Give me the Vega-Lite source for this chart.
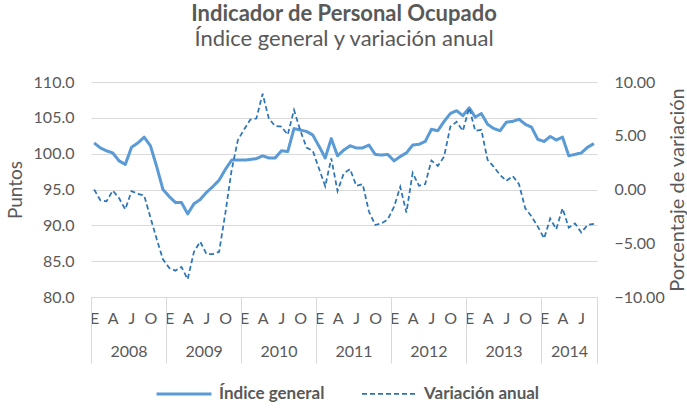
{
  "$schema": "https://vega.github.io/schema/vega-lite/v6.json",
  "width": 506,
  "height": 215,
  "autosize": {"type": "none"},
  "padding": {"left": 91, "top": 82, "right": 90, "bottom": 111},
  "title": {
    "text": "Indicador de Personal Ocupado",
    "subtitle": "Índice general y variación anual",
    "anchor": "middle",
    "frame": "group",
    "font": "Lato",
    "fontSize": 22,
    "fontWeight": "bold",
    "color": "#595959",
    "subtitleFont": "Lato",
    "subtitleFontSize": 22,
    "subtitleColor": "#595959",
    "subtitlePadding": 3,
    "offset": 23
  },
  "config": {
    "font": "Lato",
    "view": {"stroke": null},
    "axis": {"labelFont": "Lato", "titleFont": "Lato", "labelColor": "#595959", "titleColor": "#595959"}
  },
  "data": {
    "values": [
      {"fecha": "2008-01", "serie": "Índice general", "valor": 101.5},
      {"fecha": "2008-02", "serie": "Índice general", "valor": 100.8},
      {"fecha": "2008-03", "serie": "Índice general", "valor": 100.4},
      {"fecha": "2008-04", "serie": "Índice general", "valor": 100.1},
      {"fecha": "2008-05", "serie": "Índice general", "valor": 99.0},
      {"fecha": "2008-06", "serie": "Índice general", "valor": 98.5},
      {"fecha": "2008-07", "serie": "Índice general", "valor": 100.9},
      {"fecha": "2008-08", "serie": "Índice general", "valor": 101.5},
      {"fecha": "2008-09", "serie": "Índice general", "valor": 102.3},
      {"fecha": "2008-10", "serie": "Índice general", "valor": 101.1},
      {"fecha": "2008-11", "serie": "Índice general", "valor": 98.2},
      {"fecha": "2008-12", "serie": "Índice general", "valor": 95.0},
      {"fecha": "2009-01", "serie": "Índice general", "valor": 94.0},
      {"fecha": "2009-02", "serie": "Índice general", "valor": 93.2},
      {"fecha": "2009-03", "serie": "Índice general", "valor": 93.2},
      {"fecha": "2009-04", "serie": "Índice general", "valor": 91.6},
      {"fecha": "2009-05", "serie": "Índice general", "valor": 93.0},
      {"fecha": "2009-06", "serie": "Índice general", "valor": 93.6},
      {"fecha": "2009-07", "serie": "Índice general", "valor": 94.6},
      {"fecha": "2009-08", "serie": "Índice general", "valor": 95.4},
      {"fecha": "2009-09", "serie": "Índice general", "valor": 96.3},
      {"fecha": "2009-10", "serie": "Índice general", "valor": 97.8},
      {"fecha": "2009-11", "serie": "Índice general", "valor": 99.1},
      {"fecha": "2009-12", "serie": "Índice general", "valor": 99.1},
      {"fecha": "2010-01", "serie": "Índice general", "valor": 99.1},
      {"fecha": "2010-02", "serie": "Índice general", "valor": 99.2},
      {"fecha": "2010-03", "serie": "Índice general", "valor": 99.3},
      {"fecha": "2010-04", "serie": "Índice general", "valor": 99.7},
      {"fecha": "2010-05", "serie": "Índice general", "valor": 99.4},
      {"fecha": "2010-06", "serie": "Índice general", "valor": 99.4},
      {"fecha": "2010-07", "serie": "Índice general", "valor": 100.4},
      {"fecha": "2010-08", "serie": "Índice general", "valor": 100.3},
      {"fecha": "2010-09", "serie": "Índice general", "valor": 103.5},
      {"fecha": "2010-10", "serie": "Índice general", "valor": 103.3},
      {"fecha": "2010-11", "serie": "Índice general", "valor": 103.1},
      {"fecha": "2010-12", "serie": "Índice general", "valor": 102.6},
      {"fecha": "2011-01", "serie": "Índice general", "valor": 101.0},
      {"fecha": "2011-02", "serie": "Índice general", "valor": 99.4},
      {"fecha": "2011-03", "serie": "Índice general", "valor": 102.1},
      {"fecha": "2011-04", "serie": "Índice general", "valor": 99.7},
      {"fecha": "2011-05", "serie": "Índice general", "valor": 100.5},
      {"fecha": "2011-06", "serie": "Índice general", "valor": 101.1},
      {"fecha": "2011-07", "serie": "Índice general", "valor": 100.8},
      {"fecha": "2011-08", "serie": "Índice general", "valor": 100.8},
      {"fecha": "2011-09", "serie": "Índice general", "valor": 101.2},
      {"fecha": "2011-10", "serie": "Índice general", "valor": 99.9},
      {"fecha": "2011-11", "serie": "Índice general", "valor": 99.8},
      {"fecha": "2011-12", "serie": "Índice general", "valor": 99.9},
      {"fecha": "2012-01", "serie": "Índice general", "valor": 99.0},
      {"fecha": "2012-02", "serie": "Índice general", "valor": 99.6},
      {"fecha": "2012-03", "serie": "Índice general", "valor": 100.1},
      {"fecha": "2012-04", "serie": "Índice general", "valor": 101.2},
      {"fecha": "2012-05", "serie": "Índice general", "valor": 101.3},
      {"fecha": "2012-06", "serie": "Índice general", "valor": 101.7},
      {"fecha": "2012-07", "serie": "Índice general", "valor": 103.4},
      {"fecha": "2012-08", "serie": "Índice general", "valor": 103.2},
      {"fecha": "2012-09", "serie": "Índice general", "valor": 104.5},
      {"fecha": "2012-10", "serie": "Índice general", "valor": 105.6},
      {"fecha": "2012-11", "serie": "Índice general", "valor": 106.0},
      {"fecha": "2012-12", "serie": "Índice general", "valor": 105.3},
      {"fecha": "2013-01", "serie": "Índice general", "valor": 106.4},
      {"fecha": "2013-02", "serie": "Índice general", "valor": 105.1},
      {"fecha": "2013-03", "serie": "Índice general", "valor": 105.6},
      {"fecha": "2013-04", "serie": "Índice general", "valor": 104.1},
      {"fecha": "2013-05", "serie": "Índice general", "valor": 103.5},
      {"fecha": "2013-06", "serie": "Índice general", "valor": 103.2},
      {"fecha": "2013-07", "serie": "Índice general", "valor": 104.4},
      {"fecha": "2013-08", "serie": "Índice general", "valor": 104.5},
      {"fecha": "2013-09", "serie": "Índice general", "valor": 104.8},
      {"fecha": "2013-10", "serie": "Índice general", "valor": 104.1},
      {"fecha": "2013-11", "serie": "Índice general", "valor": 103.7},
      {"fecha": "2013-12", "serie": "Índice general", "valor": 102.0},
      {"fecha": "2014-01", "serie": "Índice general", "valor": 101.7},
      {"fecha": "2014-02", "serie": "Índice general", "valor": 102.4},
      {"fecha": "2014-03", "serie": "Índice general", "valor": 101.9},
      {"fecha": "2014-04", "serie": "Índice general", "valor": 102.3},
      {"fecha": "2014-05", "serie": "Índice general", "valor": 99.7},
      {"fecha": "2014-06", "serie": "Índice general", "valor": 99.9},
      {"fecha": "2014-07", "serie": "Índice general", "valor": 100.1},
      {"fecha": "2014-08", "serie": "Índice general", "valor": 100.9},
      {"fecha": "2014-09", "serie": "Índice general", "valor": 101.4},
      {"fecha": "2008-01", "serie": "Variación anual", "valor": 0.0},
      {"fecha": "2008-02", "serie": "Variación anual", "valor": -1.0},
      {"fecha": "2008-03", "serie": "Variación anual", "valor": -1.1},
      {"fecha": "2008-04", "serie": "Variación anual", "valor": -0.1},
      {"fecha": "2008-05", "serie": "Variación anual", "valor": -0.8},
      {"fecha": "2008-06", "serie": "Variación anual", "valor": -1.85},
      {"fecha": "2008-07", "serie": "Variación anual", "valor": -0.15},
      {"fecha": "2008-08", "serie": "Variación anual", "valor": -0.4},
      {"fecha": "2008-09", "serie": "Variación anual", "valor": -0.55},
      {"fecha": "2008-10", "serie": "Variación anual", "valor": -2.6},
      {"fecha": "2008-11", "serie": "Variación anual", "valor": -4.6},
      {"fecha": "2008-12", "serie": "Variación anual", "valor": -6.5},
      {"fecha": "2009-01", "serie": "Variación anual", "valor": -7.3},
      {"fecha": "2009-02", "serie": "Variación anual", "valor": -7.55},
      {"fecha": "2009-03", "serie": "Variación anual", "valor": -7.2},
      {"fecha": "2009-04", "serie": "Variación anual", "valor": -8.35},
      {"fecha": "2009-05", "serie": "Variación anual", "valor": -5.8},
      {"fecha": "2009-06", "serie": "Variación anual", "valor": -4.85},
      {"fecha": "2009-07", "serie": "Variación anual", "valor": -6.0},
      {"fecha": "2009-08", "serie": "Variación anual", "valor": -6.0},
      {"fecha": "2009-09", "serie": "Variación anual", "valor": -5.8},
      {"fecha": "2009-10", "serie": "Variación anual", "valor": -2.2},
      {"fecha": "2009-11", "serie": "Variación anual", "valor": 1.8},
      {"fecha": "2009-12", "serie": "Variación anual", "valor": 4.6},
      {"fecha": "2010-01", "serie": "Variación anual", "valor": 5.6},
      {"fecha": "2010-02", "serie": "Variación anual", "valor": 6.5},
      {"fecha": "2010-03", "serie": "Variación anual", "valor": 6.6},
      {"fecha": "2010-04", "serie": "Variación anual", "valor": 8.9},
      {"fecha": "2010-05", "serie": "Variación anual", "valor": 6.6},
      {"fecha": "2010-06", "serie": "Variación anual", "valor": 5.9},
      {"fecha": "2010-07", "serie": "Variación anual", "valor": 5.85},
      {"fecha": "2010-08", "serie": "Variación anual", "valor": 5.1},
      {"fecha": "2010-09", "serie": "Variación anual", "valor": 7.4},
      {"fecha": "2010-10", "serie": "Variación anual", "valor": 5.5},
      {"fecha": "2010-11", "serie": "Variación anual", "valor": 3.9},
      {"fecha": "2010-12", "serie": "Variación anual", "valor": 3.6},
      {"fecha": "2011-01", "serie": "Variación anual", "valor": 1.9},
      {"fecha": "2011-02", "serie": "Variación anual", "valor": 0.3},
      {"fecha": "2011-03", "serie": "Variación anual", "valor": 2.9},
      {"fecha": "2011-04", "serie": "Variación anual", "valor": -0.15},
      {"fecha": "2011-05", "serie": "Variación anual", "valor": 1.5},
      {"fecha": "2011-06", "serie": "Variación anual", "valor": 1.9},
      {"fecha": "2011-07", "serie": "Variación anual", "valor": 0.35},
      {"fecha": "2011-08", "serie": "Variación anual", "valor": 0.5},
      {"fecha": "2011-09", "serie": "Variación anual", "valor": -2.05},
      {"fecha": "2011-10", "serie": "Variación anual", "valor": -3.3},
      {"fecha": "2011-11", "serie": "Variación anual", "valor": -3.15},
      {"fecha": "2011-12", "serie": "Variación anual", "valor": -2.8},
      {"fecha": "2012-01", "serie": "Variación anual", "valor": -1.6},
      {"fecha": "2012-02", "serie": "Variación anual", "valor": 0.25},
      {"fecha": "2012-03", "serie": "Variación anual", "valor": -2.15},
      {"fecha": "2012-04", "serie": "Variación anual", "valor": 1.55},
      {"fecha": "2012-05", "serie": "Variación anual", "valor": 0.35},
      {"fecha": "2012-06", "serie": "Variación anual", "valor": 0.5},
      {"fecha": "2012-07", "serie": "Variación anual", "valor": 2.7},
      {"fecha": "2012-08", "serie": "Variación anual", "valor": 2.2},
      {"fecha": "2012-09", "serie": "Variación anual", "valor": 3.05},
      {"fecha": "2012-10", "serie": "Variación anual", "valor": 5.85},
      {"fecha": "2012-11", "serie": "Variación anual", "valor": 6.3},
      {"fecha": "2012-12", "serie": "Variación anual", "valor": 5.45},
      {"fecha": "2013-01", "serie": "Variación anual", "valor": 7.6},
      {"fecha": "2013-02", "serie": "Variación anual", "valor": 5.45},
      {"fecha": "2013-03", "serie": "Variación anual", "valor": 5.55},
      {"fecha": "2013-04", "serie": "Variación anual", "valor": 2.75},
      {"fecha": "2013-05", "serie": "Variación anual", "valor": 2.1},
      {"fecha": "2013-06", "serie": "Variación anual", "valor": 1.35},
      {"fecha": "2013-07", "serie": "Variación anual", "valor": 0.8},
      {"fecha": "2013-08", "serie": "Variación anual", "valor": 1.25},
      {"fecha": "2013-09", "serie": "Variación anual", "valor": 0.5},
      {"fecha": "2013-10", "serie": "Variación anual", "valor": -1.75},
      {"fecha": "2013-11", "serie": "Variación anual", "valor": -2.5},
      {"fecha": "2013-12", "serie": "Variación anual", "valor": -3.45},
      {"fecha": "2014-01", "serie": "Variación anual", "valor": -4.55},
      {"fecha": "2014-02", "serie": "Variación anual", "valor": -2.7},
      {"fecha": "2014-03", "serie": "Variación anual", "valor": -3.7},
      {"fecha": "2014-04", "serie": "Variación anual", "valor": -1.75},
      {"fecha": "2014-05", "serie": "Variación anual", "valor": -3.55},
      {"fecha": "2014-06", "serie": "Variación anual", "valor": -3.15},
      {"fecha": "2014-07", "serie": "Variación anual", "valor": -4.0},
      {"fecha": "2014-08", "serie": "Variación anual", "valor": -3.3},
      {"fecha": "2014-09", "serie": "Variación anual", "valor": -3.2}
    ]
  },
  "encoding": {
    "color": {
      "field": "serie", "type": "nominal",
      "scale": {"domain": ["Índice general", "Variación anual"], "range": ["#5B9BD5", "#2E75B6"]},
      "legend": {
        "title": null, "orient": "none", "legendX": 64, "legendY": 283,
        "direction": "horizontal", "symbolType": "stroke", "symbolSize": 3025,
        "labelFont": "Lato", "labelFontSize": 17, "labelFontWeight": "bold", "labelColor": "#595959",
        "labelOffset": 6, "columnPadding": 33
      }
    },
    "strokeDash": {
      "field": "serie", "type": "nominal",
      "scale": {"domain": ["Índice general", "Variación anual"], "range": [[1, 0], [5, 3]]}
    },
    "strokeWidth": {
      "field": "serie", "type": "nominal",
      "scale": {"domain": ["Índice general", "Variación anual"], "range": [3, 1.75]}
    }
  },
  "layer": [
    {
      "transform": [{"filter": "datum.serie == 'Índice general'"}],
      "mark": {"type": "line", "strokeJoin": "round"},
      "encoding": {
        "x": {
          "field": "fecha", "type": "temporal", "timeUnit": "utcyearmonth", "bandPosition": 0.5,
          "scale": {"type": "utc", "nice": false, "domain": [{"year": 2008, "month": 1, "date": 1, "utc": true}, {"year": 2014, "month": 10, "date": 1, "utc": true}]},
          "axis": {
            "orient": "bottom", "title": null,
            "tickCount": {"interval": "month", "step": 3},
            "labelExpr": "(utcyear(datum.value) == 2014 && utcmonth(datum.value) == 9) ? '' : ['E','F','M','A','M','J','J','A','S','O','N','D'][utcmonth(datum.value)]",
            "labelOffset": 3.1, "labelPadding": 13, "labelFontSize": 16,
            "ticks": false, "grid": false, "domain": true, "domainColor": "#d9d9d9",
            "labelOverlap": false, "labelFlush": false, "labelBound": false
          }
        },
        "y": {
          "field": "valor", "type": "quantitative",
          "scale": {"domain": [80, 110], "nice": false, "zero": false},
          "axis": {
            "orient": "left", "title": "Puntos", "values": [80, 85, 90, 95, 100, 105, 110], "format": ".1f",
            "grid": true, "gridColor": "#d9d9d9", "ticks": false, "domain": false,
            "labelFontSize": 16, "labelPadding": 17,
            "titleFontSize": 19, "titleFontWeight": "normal", "titlePadding": 8
          }
        }
      }
    },
    {
      "transform": [{"filter": "datum.serie == 'Variación anual'"}],
      "mark": {"type": "line"},
      "encoding": {
        "x": {
          "field": "fecha", "type": "temporal", "timeUnit": "utcyearmonth", "bandPosition": 0.5,
          "axis": {
            "orient": "bottom", "title": null,
            "values": [
              {"year": 2008, "month": 1, "date": 1, "utc": true},
              {"year": 2009, "month": 1, "date": 1, "utc": true},
              {"year": 2010, "month": 1, "date": 1, "utc": true},
              {"year": 2011, "month": 1, "date": 1, "utc": true},
              {"year": 2012, "month": 1, "date": 1, "utc": true},
              {"year": 2013, "month": 1, "date": 1, "utc": true},
              {"year": 2014, "month": 1, "date": 1, "utc": true},
              {"year": 2014, "month": 10, "date": 1, "utc": true}
            ],
            "labelExpr": "utcmonth(datum.value) == 9 ? '' : '' + utcyear(datum.value)",
            "labelOffset": {"condition": {"test": "utcyear(datum.value) == 2014", "value": 28.1}, "value": 37.5},
            "labelPadding": -20, "labelFontSize": 16,
            "ticks": true, "tickSize": 66, "tickColor": "#d9d9d9", "grid": false, "domain": false,
            "labelOverlap": false, "labelFlush": false, "labelBound": false
          }
        },
        "y": {
          "field": "valor", "type": "quantitative",
          "scale": {"domain": [-10, 10], "nice": false, "zero": false},
          "axis": {
            "orient": "right", "title": "Porcentaje de variación", "values": [-10, -5, 0, 5, 10], "format": ".2f",
            "grid": false, "ticks": false, "domain": false,
            "labelFontSize": 16, "labelPadding": 17,
            "titleFontSize": 20, "titleFontWeight": "normal", "titleAngle": 270, "titleBaseline": "top", "titlePadding": 3
          }
        }
      }
    }
  ],
  "resolve": {"scale": {"y": "independent"}, "axis": {"x": "independent"}}
}
